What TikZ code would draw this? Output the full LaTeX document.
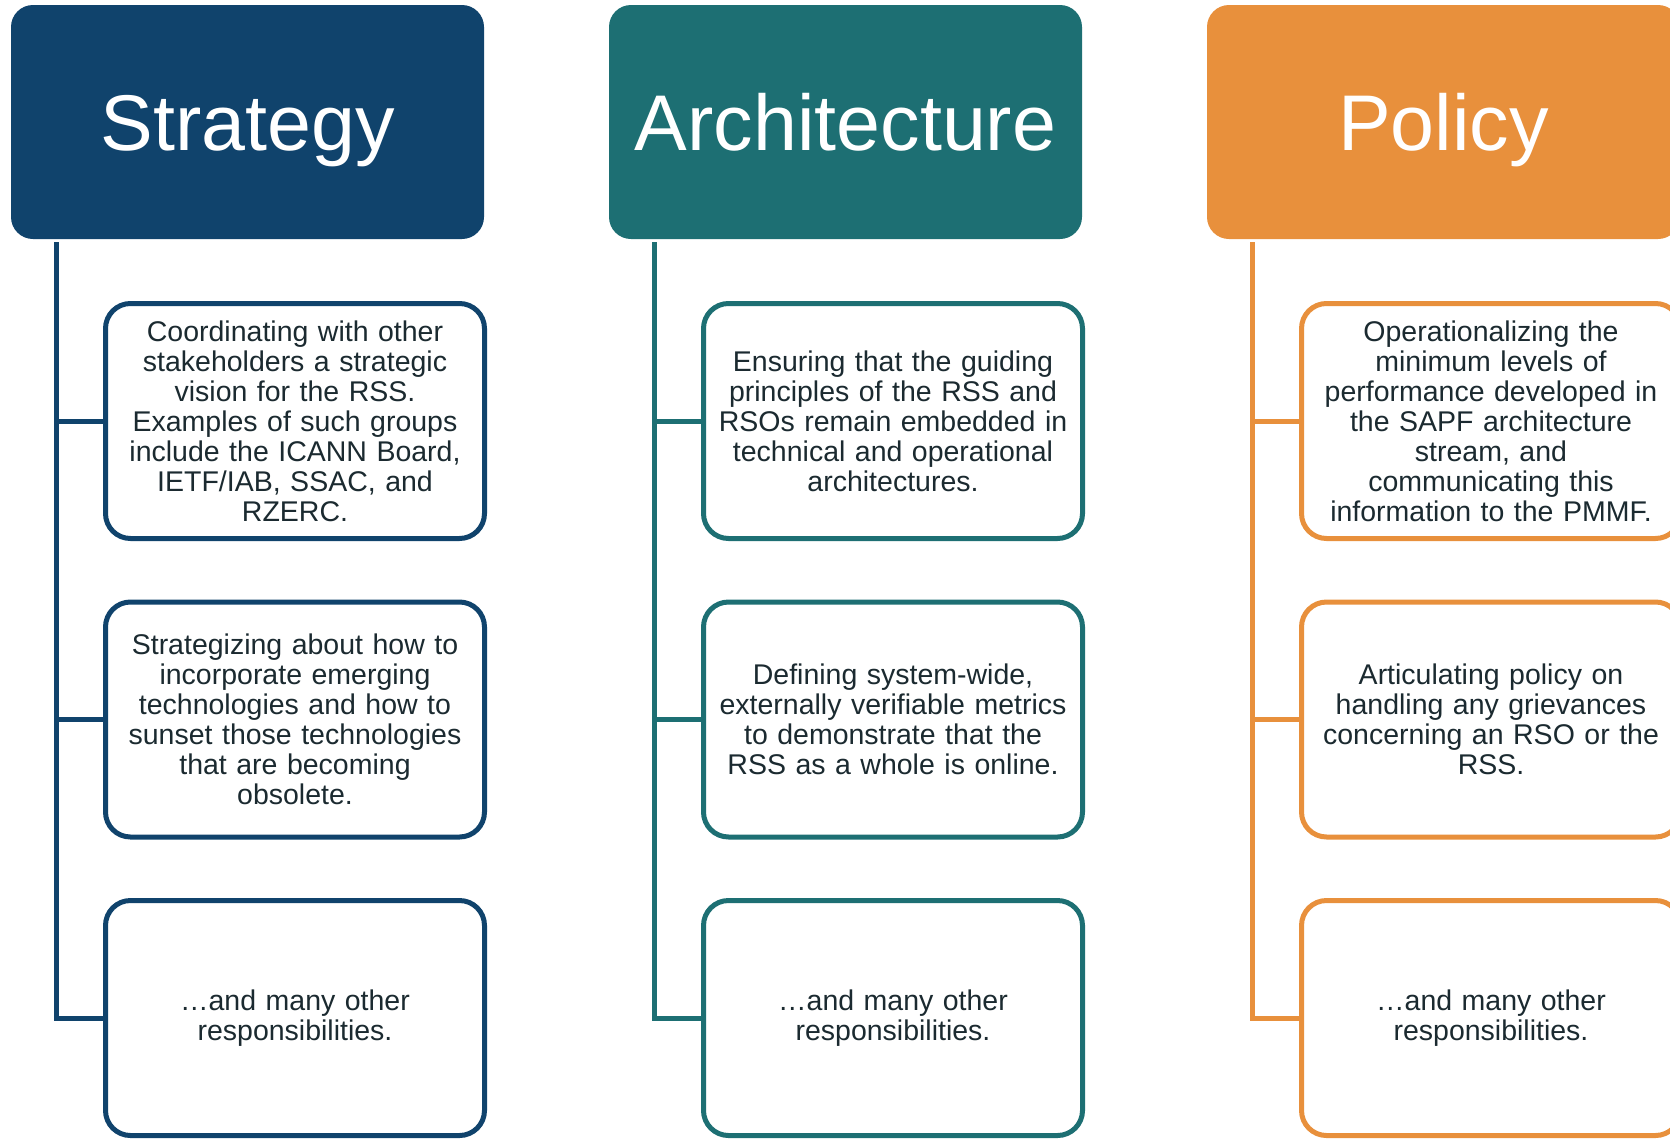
\documentclass[tikz,border=0pt]{standalone}
\usepackage{fontspec}
\setmainfont{Liberation Sans}
\usetikzlibrary{positioning}
\definecolor{stratcolor}{HTML}{10436C}
\definecolor{archcolor}{HTML}{1D6F73}
\definecolor{polcolor}{HTML}{E8903C}
\definecolor{dutytext}{HTML}{1B2A30}

\begin{document}
\begin{tikzpicture}[x=1pt, y=-1pt,
        hdr/.style={rectangle, rounded corners=22pt, fill=#1, text=white, inner sep=0pt,
            outer sep=0pt, minimum width=473pt, minimum height=234pt, text height=56pt,
            text depth=0pt, font=\fontsize{79}{90}\selectfont},
        duty/.style={rectangle, rounded corners=25pt, draw=#1, line width=5pt, fill=white,
            inner sep=0pt, outer sep=0pt, minimum width=379pt, minimum height=235pt,
            text width=375pt, align=center, text=dutytext, font=\fontsize{28.5}{30}\selectfont},
        stem/.style={draw=#1, line width=5pt}]
        \useasboundingbox (0,0) rectangle (1670,1138);
        \clip (0,0) rectangle (1670,1138);

        % column heads
        \node (strat) [hdr=stratcolor] at (247.5,122) {Strategy};
        \node (arch) [hdr=archcolor, right=125pt of strat] {Architecture};
        \node (pol) [hdr=polcolor, right=125pt of arch] {Policy};

        % strategy
        \node (s1) [duty=stratcolor] at ([xshift=47.5pt, yshift=-182pt]strat.south)
            {Coordinating with other\\ stakeholders a strategic\\ vision for the RSS.\\
             Examples of such groups\\ include the ICANN Board,\\ IETF/IAB, SSAC, and\\ RZERC.};
        \node (s2) [duty=stratcolor, below=63.5pt of s1]
            {Strategizing about how to\\ incorporate emerging\\ technologies and how to\\
             sunset those technologies\\ that are becoming\\ obsolete.};
        \node (s3) [duty=stratcolor, below=63.5pt of s2] {…and many other\\ responsibilities.};

        % architecture
        \node (a1) [duty=archcolor] at ([xshift=47.5pt, yshift=-182pt]arch.south)
            {Ensuring that the guiding\\ principles of the RSS and\\ RSOs remain embedded in\\
             technical and operational\\ architectures.};
        \node (a2) [duty=archcolor, below=63.5pt of a1]
            {Defining system-wide,\\ externally verifiable metrics\\ to demonstrate that the\\
             RSS as a whole is online.};
        \node (a3) [duty=archcolor, below=63.5pt of a2] {…and many other\\ responsibilities.};

        % policy
        \node (p1) [duty=polcolor] at ([xshift=47.5pt, yshift=-182pt]pol.south)
            {Operationalizing the\\ minimum levels of\\ performance developed in\\
             the SAPF architecture\\ stream, and\\ communicating this\\ information to the PMMF.};
        \node (p2) [duty=polcolor, below=63.5pt of p1]
            {Articulating policy on\\ handling any grievances\\ concerning an RSO or the\\ RSS.};
        \node (p3) [duty=polcolor, below=63.5pt of p2] {…and many other\\ responsibilities.};

        % stems
        \coordinate (sroot) at ([xshift=45pt, yshift=-3pt]strat.south west);
        \coordinate (aroot) at ([xshift=45pt, yshift=-3pt]arch.south west);
        \coordinate (proot) at ([xshift=45pt, yshift=-3pt]pol.south west);
        \draw [stem=stratcolor] (sroot) |- (s1.west) (sroot) |- (s2.west) (sroot) |- (s3.west);
        \draw [stem=archcolor] (aroot) |- (a1.west) (aroot) |- (a2.west) (aroot) |- (a3.west);
        \draw [stem=polcolor] (proot) |- (p1.west) (proot) |- (p2.west) (proot) |- (p3.west);
    \end{tikzpicture}
\end{document}
